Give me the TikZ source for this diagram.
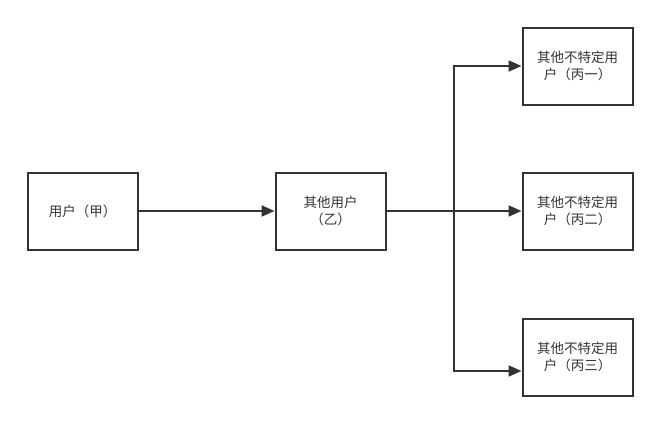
\documentclass[tikz,border=0pt]{standalone}
\usepackage{fontspec}
\newfontfamily\cjk{Noto Sans CJK SC}
\usetikzlibrary{arrows.meta}
\definecolor{ink}{HTML}{333333}
\tikzset{
  box/.style={draw=ink, line width=2pt, minimum width=110pt, minimum height=77pt, inner sep=0pt,
    font=\cjk\fontsize{13.5}{17}\selectfont, text=ink, align=center},
  conn/.style={draw=ink, line width=2pt, -{Triangle[length=13pt,width=11pt]}},
  plain/.style={draw=ink, line width=2pt}
}
\begin{document}
\begin{tikzpicture}[x=1pt,y=-1pt]
\useasboundingbox (0,0) rectangle (662,424);
\node[box] (a) at (82.5,211) {用户（甲）};
\node[box] (b) at (330.5,211) {其他用户\\（乙）};
\node[box] (c1) at (577.5,66) {其他不特定用\\户（丙一）};
\node[box] (c2) at (577.5,211) {其他不特定用\\户（丙二）};
\node[box] (c3) at (577.5,357) {其他不特定用\\户（丙三）};
\coordinate (j) at (454,211);
\coordinate (jt) at (454,66);
\coordinate (jb) at (454,371);
\draw[conn] (a) -- (b);
\draw[plain] (b) -- (j);
\draw[conn] (j) -- (c2);
\draw[conn] (j) -- (jt) -- (c1.west |- jt);
\draw[conn] (j) -- (jb) -- (c3.west |- jb);
\end{tikzpicture}
\end{document}
